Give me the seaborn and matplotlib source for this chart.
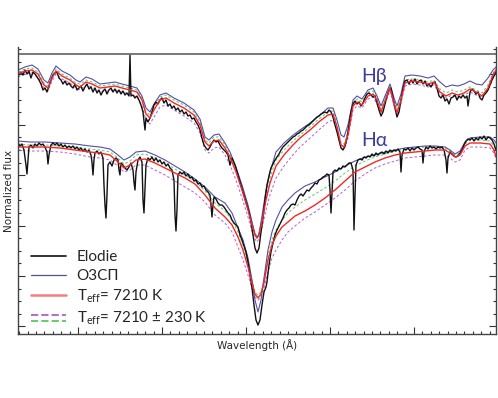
import numpy as np
import matplotlib
matplotlib.use("Agg")
import matplotlib.pyplot as plt
import seaborn as sns
from matplotlib.lines import Line2D
from matplotlib.legend_handler import HandlerBase
from matplotlib.ticker import MultipleLocator

# ---- data: offset from line centre (A) and normalized flux ----
# H-beta, model grid (used for O3SP, 7210 K, and the +/-230 K models)
hb_x = [-239, -232, -225, -219, -213, -209, -205, -201, -195, -187,
        -181, -177, -171, -165, -157, -149, -142, -135, -127, -120,
        -115, -111, -107, -103, -97, -91, -83, -73, -63, -57,
        -52, -48, -43, -38, -32, -27, -21, -15, -9, -5,
        -2, 0, 2, 5, 9, 13, 19, 27, 35, 43,
        53, 63, 71, 76, 80, 84, 87, 91, 96, 100,
        105, 111, 116, 120, 124, 128, 133, 137, 140, 144,
        148, 155, 163, 171, 177, 183, 189, 195, 201, 207,
        213, 219, 225, 231, 236, 239]
hb_red = [1.040, 1.052, 1.056, 1.040, 0.996, 0.984, 1.024, 1.052, 1.032, 1.016,
          0.996, 0.988, 1.008, 1.000, 0.984, 0.988, 0.992, 0.984, 0.976, 0.968,
          0.936, 0.880, 0.864, 0.896, 0.936, 0.944, 0.924, 0.904, 0.876, 0.836,
          0.768, 0.752, 0.772, 0.776, 0.744, 0.708, 0.648, 0.576, 0.496, 0.436,
          0.396, 0.384, 0.396, 0.448, 0.536, 0.604, 0.672, 0.716, 0.752, 0.784,
          0.816, 0.852, 0.876, 0.880, 0.828, 0.756, 0.748, 0.796, 0.912, 0.928,
          0.916, 0.952, 0.960, 0.936, 0.888, 0.932, 0.984, 0.924, 0.884, 0.936,
          1.004, 1.012, 1.008, 1.000, 1.008, 0.968, 0.952, 0.964, 0.956, 0.964,
          0.980, 0.968, 0.952, 0.984, 1.036, 1.056]
hb_ozsp = [1.056, 1.068, 1.076, 1.060, 1.016, 1.004, 1.044, 1.072, 1.052, 1.036,
           1.016, 1.008, 1.028, 1.020, 1.000, 1.004, 1.008, 1.000, 0.992, 0.984,
           0.952, 0.904, 0.888, 0.920, 0.956, 0.964, 0.944, 0.924, 0.896, 0.860,
           0.788, 0.776, 0.796, 0.800, 0.764, 0.728, 0.668, 0.596, 0.516, 0.448,
           0.400, 0.384, 0.400, 0.472, 0.576, 0.648, 0.728, 0.764, 0.792, 0.816,
           0.844, 0.876, 0.904, 0.904, 0.856, 0.796, 0.788, 0.836, 0.936, 0.952,
           0.940, 0.976, 0.984, 0.952, 0.912, 0.952, 1.000, 0.944, 0.912, 0.960,
           1.032, 1.036, 1.032, 1.024, 1.032, 1.008, 0.988, 0.996, 0.992, 1.000,
           1.012, 1.000, 0.996, 1.024, 1.056, 1.068]
hb_hot = [1.048, 1.060, 1.064, 1.048, 1.004, 0.992, 1.032, 1.060, 1.040, 1.024,
          1.004, 1.000, 1.016, 1.008, 0.992, 0.996, 1.000, 0.992, 0.984, 0.976,
          0.944, 0.888, 0.876, 0.908, 0.948, 0.956, 0.936, 0.916, 0.888, 0.848,
          0.776, 0.764, 0.788, 0.788, 0.756, 0.720, 0.660, 0.588, 0.508, 0.448,
          0.404, 0.392, 0.404, 0.460, 0.556, 0.624, 0.696, 0.736, 0.768, 0.796,
          0.828, 0.864, 0.888, 0.892, 0.836, 0.764, 0.760, 0.808, 0.924, 0.940,
          0.928, 0.968, 0.972, 0.944, 0.900, 0.944, 0.992, 0.932, 0.896, 0.948,
          1.016, 1.020, 1.016, 1.008, 1.016, 0.980, 0.964, 0.976, 0.968, 0.976,
          0.988, 0.976, 0.964, 0.996, 1.044, 1.060]
hb_cool = [1.028, 1.040, 1.044, 1.028, 0.984, 0.972, 1.012, 1.040, 1.020, 1.004,
           0.984, 0.976, 0.996, 0.988, 0.968, 0.972, 0.976, 0.968, 0.960, 0.948,
           0.912, 0.856, 0.840, 0.868, 0.908, 0.916, 0.896, 0.872, 0.844, 0.804,
           0.736, 0.724, 0.744, 0.748, 0.716, 0.676, 0.616, 0.544, 0.468, 0.412,
           0.380, 0.368, 0.380, 0.424, 0.496, 0.556, 0.624, 0.672, 0.712, 0.748,
           0.784, 0.820, 0.848, 0.856, 0.816, 0.744, 0.736, 0.784, 0.896, 0.912,
           0.904, 0.940, 0.948, 0.920, 0.876, 0.920, 0.972, 0.912, 0.872, 0.924,
           0.992, 1.000, 0.996, 0.988, 0.996, 0.960, 0.944, 0.956, 0.948, 0.956,
           0.968, 0.956, 0.948, 0.976, 1.024, 1.044]

# H-beta, Elodie spectrum
hb_el_x = [-239, -236, -234, -232, -230, -228, -226, -224, -222, -220,
           -218, -216, -214, -212, -210, -208, -206, -204, -202, -200,
           -198, -196, -194, -192, -190, -188, -186, -184, -182, -180,
           -178, -176, -174, -172, -170, -168, -166, -164, -162, -160,
           -158, -156, -154, -152, -150, -148, -146, -144, -142, -140,
           -138, -136, -134, -132, -130, -128, -127, -126, -124, -122,
           -120, -118, -116, -114, -112, -111, -109, -107, -105, -103,
           -101, -99, -97, -95, -93, -91, -89, -87, -85, -83,
           -81, -79, -77, -75, -73, -71, -69, -67, -65, -63,
           -61, -59, -57, -55, -53, -51, -49, -47, -45, -43,
           -41, -39, -37, -35, -33, -31, -29, -27, -25, -22,
           -19, -16, -13, -10, -8, -6, -4, -2, 0, 2,
           4, 6, 8, 10, 12, 14, 16, 18, 20, 22,
           24, 26, 28, 30, 32, 34, 36, 38, 40, 42,
           44, 46, 48, 50, 52, 54, 56, 58, 60, 62,
           64, 66, 68, 70, 72, 74, 76, 78, 80, 82,
           84, 86, 88, 90, 92, 94, 96, 98, 100, 102,
           104, 106, 108, 110, 112, 114, 116, 118, 120, 122,
           124, 126, 128, 130, 132, 134, 136, 138, 140, 142,
           144, 146, 148, 150, 152, 154, 156, 158, 160, 162,
           164, 166, 168, 170, 172, 174, 176, 178, 180, 182,
           184, 186, 188, 190, 192, 194, 196, 198, 200, 202,
           204, 206, 208, 210, 211, 213, 215, 217, 219, 221,
           223, 225, 227, 229, 231, 233, 235, 237, 239]
hb_el_y = [1.032, 1.048, 1.036, 1.056, 1.040, 1.052, 1.024, 1.048, 1.040, 1.028,
           1.016, 1.000, 0.976, 0.984, 0.968, 0.992, 1.016, 1.036, 1.044, 1.048,
           1.024, 1.016, 1.000, 1.012, 0.996, 1.004, 0.992, 0.984, 1.000, 0.976,
           0.984, 0.992, 0.972, 0.988, 1.000, 0.980, 0.988, 0.968, 0.984, 0.964,
           0.976, 0.956, 0.972, 0.980, 0.960, 0.976, 0.984, 0.968, 0.980, 0.964,
           0.976, 0.960, 0.972, 0.956, 0.964, 0.952, 1.116, 0.952, 0.956, 0.944,
           0.952, 0.936, 0.916, 0.888, 0.816, 0.864, 0.848, 0.864, 0.888, 0.916,
           0.928, 0.920, 0.936, 0.944, 0.924, 0.936, 0.912, 0.920, 0.904, 0.912,
           0.896, 0.904, 0.888, 0.896, 0.880, 0.888, 0.872, 0.876, 0.860, 0.864,
           0.848, 0.836, 0.816, 0.784, 0.756, 0.744, 0.736, 0.748, 0.764, 0.776,
           0.768, 0.772, 0.756, 0.744, 0.736, 0.728, 0.716, 0.676, 0.704, 0.676,
           0.636, 0.596, 0.556, 0.516, 0.488, 0.448, 0.396, 0.344, 0.324, 0.344,
           0.408, 0.464, 0.536, 0.596, 0.632, 0.664, 0.680, 0.696, 0.708, 0.720,
           0.736, 0.748, 0.756, 0.764, 0.772, 0.780, 0.788, 0.792, 0.800, 0.804,
           0.812, 0.816, 0.824, 0.832, 0.836, 0.844, 0.852, 0.860, 0.868, 0.872,
           0.880, 0.884, 0.888, 0.884, 0.896, 0.888, 0.868, 0.836, 0.808, 0.776,
           0.744, 0.736, 0.752, 0.784, 0.836, 0.888, 0.920, 0.932, 0.920, 0.928,
           0.912, 0.924, 0.944, 0.960, 0.964, 0.956, 0.948, 0.952, 0.924, 0.896,
           0.872, 0.888, 0.920, 0.952, 0.976, 0.984, 0.944, 0.904, 0.868, 0.888,
           0.936, 0.984, 1.012, 1.016, 1.000, 1.016, 1.004, 1.020, 1.000, 1.012,
           1.016, 1.000, 1.012, 0.992, 1.000, 0.988, 1.004, 1.008, 0.984, 0.952,
           0.944, 0.956, 0.932, 0.940, 0.920, 0.944, 0.948, 0.956, 0.936, 0.952,
           0.944, 0.956, 0.944, 0.952, 0.912, 0.968, 0.980, 0.972, 0.960, 0.968,
           0.944, 0.936, 0.956, 0.964, 0.976, 0.996, 1.016, 1.032, 1.048]

# H-alpha, model grid
ha_x = [-239, -227, -212, -197, -182, -167, -157, -147, -139, -133,
        -127, -121, -112, -102, -92, -82, -72, -62, -52, -42,
        -32, -25, -19, -14, -9, -5, -2, 1, 4, 7,
        11, 15, 19, 25, 31, 38, 48, 58, 68, 78,
        88, 98, 108, 118, 128, 138, 148, 158, 168, 178,
        188, 193, 198, 203, 208, 213, 223, 233, 237, 239]
ha_red = [0.748, 0.748, 0.748, 0.744, 0.736, 0.728, 0.724, 0.716, 0.688, 0.664,
          0.676, 0.696, 0.700, 0.684, 0.664, 0.644, 0.624, 0.600, 0.556, 0.504,
          0.468, 0.436, 0.388, 0.336, 0.268, 0.204, 0.160, 0.144, 0.160, 0.204,
          0.296, 0.356, 0.392, 0.428, 0.448, 0.472, 0.492, 0.516, 0.544, 0.576,
          0.612, 0.648, 0.668, 0.688, 0.704, 0.716, 0.724, 0.728, 0.732, 0.736,
          0.736, 0.724, 0.708, 0.716, 0.752, 0.764, 0.764, 0.760, 0.736, 0.708]
ha_ozsp = [0.772, 0.768, 0.768, 0.764, 0.760, 0.752, 0.748, 0.740, 0.716, 0.696,
           0.708, 0.728, 0.732, 0.716, 0.696, 0.672, 0.648, 0.620, 0.588, 0.548,
           0.524, 0.484, 0.424, 0.376, 0.304, 0.216, 0.136, 0.088, 0.136, 0.224,
           0.336, 0.408, 0.456, 0.508, 0.536, 0.564, 0.592, 0.608, 0.628, 0.648,
           0.672, 0.692, 0.708, 0.716, 0.728, 0.736, 0.744, 0.748, 0.752, 0.752,
           0.748, 0.736, 0.720, 0.732, 0.768, 0.784, 0.788, 0.788, 0.776, 0.764]
ha_hot = [0.760, 0.756, 0.756, 0.752, 0.748, 0.740, 0.736, 0.728, 0.704, 0.680,
          0.692, 0.716, 0.720, 0.704, 0.684, 0.660, 0.636, 0.612, 0.572, 0.524,
          0.492, 0.456, 0.408, 0.356, 0.284, 0.216, 0.168, 0.156, 0.168, 0.216,
          0.316, 0.376, 0.416, 0.456, 0.484, 0.508, 0.536, 0.560, 0.584, 0.612,
          0.644, 0.672, 0.692, 0.708, 0.720, 0.732, 0.740, 0.744, 0.748, 0.748,
          0.744, 0.732, 0.716, 0.724, 0.760, 0.776, 0.776, 0.772, 0.752, 0.732]
ha_cool = [0.736, 0.732, 0.732, 0.728, 0.720, 0.708, 0.704, 0.696, 0.672, 0.648,
           0.656, 0.676, 0.676, 0.656, 0.636, 0.612, 0.588, 0.564, 0.528, 0.476,
           0.444, 0.408, 0.348, 0.296, 0.236, 0.184, 0.148, 0.136, 0.148, 0.184,
           0.248, 0.304, 0.336, 0.376, 0.408, 0.432, 0.464, 0.488, 0.516, 0.544,
           0.576, 0.612, 0.640, 0.664, 0.680, 0.692, 0.704, 0.708, 0.712, 0.716,
           0.716, 0.704, 0.688, 0.696, 0.736, 0.748, 0.748, 0.744, 0.724, 0.704]

# H-alpha, Elodie spectrum
ha_el_x = [-239, -237, -235, -233, -231, -230, -229, -228, -226, -224,
           -222, -220, -218, -216, -214, -212, -210, -209, -208, -206,
           -204, -202, -200, -198, -196, -194, -192, -190, -188, -186,
           -184, -182, -180, -178, -176, -174, -172, -170, -168, -166,
           -165, -164, -163, -162, -160, -158, -156, -154, -153, -152,
           -151, -150, -149, -147, -145, -143, -141, -139, -138, -137,
           -136, -134, -132, -130, -128, -126, -124, -123, -122, -121,
           -119, -117, -115, -114, -113, -112, -111, -109, -107, -105,
           -103, -101, -99, -97, -95, -93, -91, -89, -87, -85,
           -83, -82, -81, -80, -79, -77, -75, -73, -71, -69,
           -67, -65, -63, -61, -59, -57, -55, -53, -51, -49,
           -47, -46, -45, -44, -43, -41, -39, -37, -35, -33,
           -31, -29, -27, -25, -23, -21, -19, -17, -15, -13,
           -11, -9, -7, -5, -3, -1, 1, 3, 5, 7,
           9, 10, 12, 14, 16, 18, 20, 22, 24, 26,
           28, 30, 32, 34, 36, 38, 40, 42, 44, 46,
           48, 50, 52, 54, 56, 58, 60, 62, 64, 66,
           68, 70, 72, 73, 74, 75, 76, 78, 80, 82,
           84, 86, 88, 90, 92, 94, 96, 97, 98, 99,
           101, 103, 105, 107, 109, 111, 113, 115, 117, 119,
           121, 123, 125, 127, 129, 131, 133, 135, 137, 139,
           141, 143, 144, 145, 147, 149, 151, 153, 155, 157,
           159, 161, 163, 165, 166, 167, 169, 171, 173, 175,
           177, 179, 181, 183, 185, 187, 189, 190, 191, 193,
           195, 197, 199, 201, 203, 205, 207, 209, 211, 213,
           215, 217, 219, 221, 223, 225, 227, 229, 231, 233,
           235, 237, 239]
ha_el_y = [0.764, 0.752, 0.760, 0.736, 0.676, 0.640, 0.696, 0.748, 0.756, 0.744,
           0.760, 0.752, 0.764, 0.756, 0.760, 0.748, 0.728, 0.680, 0.716, 0.756,
           0.764, 0.756, 0.764, 0.752, 0.760, 0.748, 0.756, 0.744, 0.752, 0.744,
           0.752, 0.740, 0.748, 0.736, 0.744, 0.732, 0.740, 0.728, 0.736, 0.716,
           0.688, 0.636, 0.696, 0.724, 0.732, 0.720, 0.728, 0.704, 0.596, 0.516,
           0.464, 0.556, 0.676, 0.688, 0.672, 0.696, 0.704, 0.696, 0.656, 0.636,
           0.684, 0.676, 0.664, 0.656, 0.668, 0.684, 0.656, 0.608, 0.576, 0.648,
           0.696, 0.708, 0.688, 0.536, 0.484, 0.576, 0.676, 0.704, 0.696, 0.708,
           0.692, 0.704, 0.688, 0.696, 0.680, 0.688, 0.672, 0.680, 0.664, 0.656,
           0.616, 0.476, 0.412, 0.496, 0.636, 0.648, 0.640, 0.648, 0.632, 0.640,
           0.624, 0.628, 0.612, 0.616, 0.600, 0.604, 0.588, 0.592, 0.576, 0.568,
           0.556, 0.516, 0.468, 0.516, 0.548, 0.540, 0.524, 0.516, 0.516, 0.508,
           0.496, 0.484, 0.476, 0.456, 0.444, 0.436, 0.428, 0.396, 0.376, 0.352,
           0.328, 0.288, 0.236, 0.184, 0.116, 0.056, 0.036, 0.056, 0.116, 0.168,
           0.188, 0.208, 0.276, 0.328, 0.364, 0.396, 0.416, 0.432, 0.448, 0.464,
           0.484, 0.496, 0.504, 0.516, 0.520, 0.516, 0.536, 0.552, 0.560, 0.552,
           0.564, 0.576, 0.572, 0.584, 0.592, 0.604, 0.600, 0.616, 0.620, 0.628,
           0.632, 0.640, 0.636, 0.576, 0.484, 0.568, 0.648, 0.656, 0.652, 0.664,
           0.660, 0.672, 0.668, 0.676, 0.684, 0.684, 0.656, 0.416, 0.556, 0.676,
           0.696, 0.700, 0.696, 0.708, 0.704, 0.712, 0.708, 0.720, 0.712, 0.724,
           0.716, 0.724, 0.728, 0.720, 0.732, 0.724, 0.736, 0.728, 0.736, 0.732,
           0.740, 0.728, 0.648, 0.716, 0.740, 0.736, 0.744, 0.732, 0.744, 0.736,
           0.744, 0.748, 0.740, 0.736, 0.684, 0.728, 0.748, 0.740, 0.752, 0.744,
           0.748, 0.740, 0.748, 0.744, 0.748, 0.736, 0.696, 0.644, 0.704, 0.728,
           0.720, 0.712, 0.708, 0.712, 0.724, 0.736, 0.756, 0.772, 0.780, 0.776,
           0.784, 0.772, 0.784, 0.776, 0.788, 0.780, 0.792, 0.776, 0.788, 0.784,
           0.776, 0.760, 0.736]

ref_level = 1.12
line_names = ["H\u03b2", "H\u03b1"]
legend_labels = ["Elodie", "\u041e3\u0421\u041f",
                 "T$_{\\mathrm{eff}}$= 7210 K",
                 "T$_{\\mathrm{eff}}$= 7210 \u00b1 230 K"]

# ---- style ----
sns.set_theme(style="ticks")
plt.rcParams["font.family"] = ["Lato", "DejaVu Sans"]
plt.rcParams["mathtext.fontset"] = "custom"
plt.rcParams["mathtext.rm"] = "Lato"
plt.rcParams["mathtext.it"] = "Lato:italic"

c_el = "#111111"
c_oz = "#5050aa"
c_red = "#f02828"
c_cool = "#b868cc"
c_hot = "#6acb6a"
dash = (0, (2.5, 2))

fig = plt.figure(figsize=(4.98, 3.98), dpi=100)
ax = fig.add_axes([0.0361, 0.1608, 0.9599, 0.7211])

for x, ys in ((hb_x, (hb_cool, hb_hot, hb_ozsp)), (ha_x, (ha_cool, ha_hot, ha_ozsp))):
    sns.lineplot(x=x, y=ys[0], ax=ax, color=c_cool, lw=0.75, linestyle=dash, estimator=None)
    sns.lineplot(x=x, y=ys[1], ax=ax, color=c_hot, lw=0.75, linestyle=dash, estimator=None)
    sns.lineplot(x=x, y=ys[2], ax=ax, color=c_oz, lw=0.8, estimator=None)

sns.lineplot(x=hb_el_x, y=hb_el_y, ax=ax, color=c_el, lw=1.0, estimator=None)
sns.lineplot(x=ha_el_x, y=ha_el_y, ax=ax, color=c_el, lw=1.0, estimator=None)
sns.lineplot(x=hb_x, y=hb_red, ax=ax, color=c_red, lw=1.0, estimator=None)
sns.lineplot(x=ha_x, y=ha_red, ax=ax, color=c_red, lw=1.0, estimator=None)

ax.axhline(ref_level, color="#555555", lw=1.1)

ax.text(117, 1.032, line_names[0], color="#3c3c98", fontsize=14, ha="center", va="center")
ax.text(117, 0.776, line_names[1], color="#3c3c98", fontsize=14, ha="center", va="center")

ax.set_xlim(-239, 239)
ax.set_ylim(0, 1.148)
ax.xaxis.set_major_locator(MultipleLocator(84, offset=73))
ax.xaxis.set_minor_locator(MultipleLocator(8.4, offset=5.8))
ax.yaxis.set_major_locator(MultipleLocator(0.2016, offset=0.0304))
ax.yaxis.set_minor_locator(MultipleLocator(0.0504, offset=0.0304))
ax.tick_params(which="both", direction="in", top=False, right=True, left=True, bottom=True,
               labelleft=False, labelbottom=False, color="#333333", width=0.8)
ax.tick_params(which="major", length=5)
ax.tick_params(which="minor", length=2.5)
ax.spines["top"].set_visible(False)
for s in ("left", "right", "bottom"):
    ax.spines[s].set_color("#444444")
    ax.spines[s].set_linewidth(1.0)

ax.set_xlabel("Wavelength (\u00c5)", fontsize=7.5, family="DejaVu Sans", labelpad=4)
ax.set_ylabel("Normalized flux", fontsize=7.5, family="DejaVu Sans", labelpad=3)


class HandlerStacked(HandlerBase):
    def create_artists(self, legend, orig_handle, xdescent, ydescent, width, height, fontsize, trans):
        out = []
        for h, frac in zip(orig_handle, (0.7, 0.1)):
            ln = Line2D([-xdescent, -xdescent + width], [frac * height - ydescent] * 2,
                        color=h.get_color(), linestyle=h.get_linestyle(), lw=h.get_linewidth(),
                        transform=trans)
            out.append(ln)
        return out


handles = [Line2D([], [], color=c_el, lw=1.2),
           Line2D([], [], color=c_oz, lw=0.9),
           Line2D([], [], color=c_red, lw=1.8, alpha=0.6),
           (Line2D([], [], color=c_cool, lw=1.4, linestyle=dash),
            Line2D([], [], color=c_hot, lw=1.4, linestyle=dash))]
ax.legend(handles, legend_labels, loc="lower left", bbox_to_anchor=(0.027, 0.025),
          frameon=False, fontsize=11, handlelength=2.3, handletextpad=0.7,
          labelspacing=0.3, borderpad=0, borderaxespad=0,
          handler_map={tuple: HandlerStacked()})

fig.savefig("out.png", dpi=100)
